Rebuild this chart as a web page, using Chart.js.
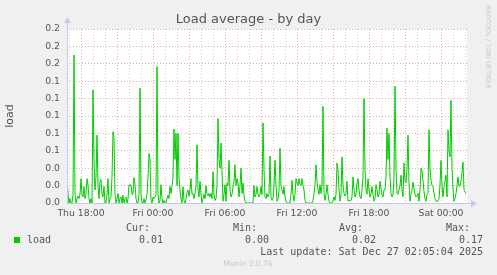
<!DOCTYPE html>
<html>
<head>
<meta charset="utf-8">
<title>Load average - by day</title>
<script src="https://cdn.jsdelivr.net/npm/chart.js@4.4.1/dist/chart.umd.min.js"></script>
<style>
  html, body { margin: 0; padding: 0; background: #f0f0f0; }
  canvas { display: block; }
</style>
</head>
<body>
<canvas id="loadChart" width="497" height="275"></canvas>
<script>
// minutes since Thu 00:00, one sample every 5 minutes
const firstSample = 1010; // Thu 16:50
const sampleStep = 5;

// load values (5 min resolution)
const loadValues = [
  0.035,0.01,0,0.005,0,0,0.01,0.17,0.01,0,
  0.005,0.008,0.005,0.01,0.028,0.01,0.007,0.019,0.005,0.01,
  0.028,0.02,0.005,0,0.005,0,0.13,0.05,0.015,0.03,
  0.078,0.02,0.005,0.025,0.027,0.01,0.007,0.019,0,0,
  0.01,0.028,0,0.005,0.007,0.03,0.082,0.075,0.01,0,
  0.005,0.011,0,0.005,0.007,0,0.009,0,0.005,0.007,
  0,0.005,0.021,0.02,0.021,0.01,0.01,0.029,0.022,0.005,
  0,0,0.01,0.132,0.01,0,0,0.005,0,0.004,
  0.01,0.03,0.057,0.05,0.003,0,0.007,0.005,0.007,0.01,
  0.157,0.01,0,0.003,0.021,0.005,0,0.003,0,0,
  0.005,0.009,0.005,0.019,0.011,0.019,0.03,0.085,0.05,0.08,
  0.02,0.08,0.03,0.015,0.005,0,0.019,0.003,0,0.005,
  0.012,0.015,0.008,0.015,0.028,0.01,0.011,0.005,0.011,0.02,
  0.067,0.015,0.007,0.025,0.01,0,0.005,0.01,0.005,0.02,
  0.01,0.008,0.011,0.007,0.011,0.005,0.036,0.01,0.003,0.005,
  0.02,0.097,0.05,0.04,0.069,0.035,0.002,0.01,0.021,0.002,
  0.023,0.02,0.049,0.015,0.007,0.01,0.019,0.025,0.044,0.02,
  0.028,0.023,0.007,0.02,0.04,0.011,0.023,0.008,0.002,0,
  0,0,0,0,0,0,0,0.02,0.007,0.01,
  0.019,0.01,0.007,0.01,0.019,0.01,0.092,0.038,0.007,0.005,
  0.011,0.007,0.01,0.054,0.007,0.003,0.005,0.021,0.049,0.02,
  0.002,0.005,0.015,0.063,0.02,0.015,0.01,0.019,0.007,0.002,
  0,0,0,0,0.01,0.026,0.01,0.002,0.01,0.028,
  0.023,0.02,0.028,0.021,0.02,0.028,0.02,0.015,0.003,0,
  0,0,0,0,0,0,0.003,0.011,0.02,0.044,
  0.025,0.015,0.01,0.021,0.011,0.02,0.111,0.011,0.003,0.01,
  0.021,0.01,0.002,0,0,0,0.003,0.007,0.003,0.01,
  0.046,0.038,0.015,0.002,0.01,0.053,0.02,0.011,0.008,0.01,
  0.025,0.002,0.003,0.003,0.003,0.007,0.03,0.015,0.007,0.01,
  0.023,0.028,0.015,0.007,0.005,0.015,0.03,0.12,0.04,0.015,
  0.01,0.028,0.015,0.007,0.01,0.019,0.01,0.002,0.005,0.021,
  0.015,0.007,0.01,0.025,0.017,0.01,0.007,0.015,0.015,0.03,
  0.086,0.05,0.08,0.03,0.011,0.007,0.01,0.03,0.134,0.04,
  0.011,0.01,0.015,0.02,0.032,0.015,0.007,0.046,0.025,0.023,
  0.04,0.078,0.023,0.002,0.01,0.015,0.024,0.017,0.01,0.007,
  0.008,0.011,0.002,0.015,0.04,0.037,0.026,0.013,0.005,0.002,
  0.01,0.011,0.084,0.04,0.026,0.02,0.019,0.011,0.005,0.002,
  0.002,0.002,0.005,0.02,0.049,0.02,0.007,0.019,0.025,0.032,
  0.007,0.084,0.06,0.053,0.118,0.04,0.015,0.002,0.005,0.011,
  0.02,0.03,0.019,0.02,0.025,0.035,0.047,0.015,0.013,0.011
];

const xTickMinutes = [1080, 1440, 1800, 2160, 2520, 2880];
const xTickLabels = ['Thu 18:00', 'Fri 00:00', 'Fri 06:00', 'Fri 12:00', 'Fri 18:00', 'Sat 00:00'];
const yTickLabels = ['0.0', '0.0', '0.0', '0.1', '0.1', '0.1', '0.1', '0.1', '0.2', '0.2', '0.2'];

const legendHeaders = ['Cur:', 'Min:', 'Avg:', 'Max:'];
const legendValues = ['0.01', '0.00', '0.02', '0.17'];
const lastUpdate = 'Last update: Sat Dec 27 02:05:04 2025';

const lineColor = '#00cc00';
const axisColor = '#c4c8ee';
const majorGrid = '#eeaaaa';
const minorGrid = '#d2d2d2';
const textColor = '#555555';

const points = loadValues.map((v, i) => ({ x: firstSample + i * sampleStep, y: v }));

// fundo, eixos com setas e textos do munin
const munin = {
  id: 'munin',
  beforeDraw(chart) {
    const { ctx, chartArea: a } = chart;
    ctx.save();
    ctx.fillStyle = '#f0f0f0';
    ctx.fillRect(0, 0, chart.width, chart.height);
    ctx.fillStyle = '#ffffff';
    ctx.fillRect(a.left, a.top, a.right - a.left, a.bottom - a.top);
    ctx.restore();
  },
  afterDraw(chart) {
    const { ctx, chartArea: a } = chart;
    ctx.save();
    // eixos
    ctx.strokeStyle = axisColor;
    ctx.fillStyle = axisColor;
    ctx.lineWidth = 1;
    ctx.beginPath();
    ctx.moveTo(a.left + 0.5, a.bottom + 0.5);
    ctx.lineTo(a.left + 0.5, a.top - 7);
    ctx.moveTo(a.left, a.bottom + 0.5);
    ctx.lineTo(a.right + 6, a.bottom + 0.5);
    ctx.stroke();
    ctx.beginPath();
    ctx.moveTo(a.left - 3, a.top - 6);
    ctx.lineTo(a.left + 4, a.top - 6);
    ctx.lineTo(a.left + 0.5, a.top - 12);
    ctx.closePath();
    ctx.fill();
    ctx.beginPath();
    ctx.moveTo(a.right + 4, a.bottom - 3);
    ctx.lineTo(a.right + 4, a.bottom + 4);
    ctx.lineTo(a.right + 10, a.bottom + 0.5);
    ctx.closePath();
    ctx.fill();

    // titulo
    ctx.fillStyle = textColor;
    ctx.font = '13px "DejaVu Sans"';
    ctx.textAlign = 'center';
    ctx.textBaseline = 'alphabetic';
    ctx.fillText('Load average - by day', 248.5, 22.5);

    // legenda
    ctx.font = '10px "DejaVu Sans Mono"';
    ctx.textBaseline = 'middle';
    ctx.textAlign = 'right';
    const headerRight = [150, 257, 363, 470];
    const valueRight = [163, 269, 376, 483];
    legendHeaders.forEach((h, i) => ctx.fillText(h, headerRight[i], 228));
    legendValues.forEach((v, i) => ctx.fillText(v, valueRight[i], 240));
    ctx.fillText(lastUpdate, 483, 252);
    ctx.textAlign = 'left';
    ctx.fillText('load', 27, 240);
    ctx.fillStyle = lineColor;
    ctx.fillRect(14, 237, 6, 6);

    // marcas cinzas
    ctx.fillStyle = '#c8c8c8';
    ctx.font = '7.5px "DejaVu Sans"';
    ctx.textAlign = 'center';
    ctx.fillText('Munin 2.0.76', 248, 264);
    ctx.translate(488, 5);
    ctx.rotate(Math.PI / 2);
    ctx.textAlign = 'left';
    ctx.font = '6.5px "DejaVu Sans"';
    ctx.fillText('RRDTOOL / TOBI OETIKER', 0, 0);
    ctx.restore();
  }
};

new Chart(document.getElementById('loadChart'), {
  type: 'line',
  data: {
    datasets: [{
      label: 'load',
      data: points,
      borderColor: lineColor,
      borderWidth: 1,
      pointRadius: 0,
      tension: 0,
      fill: false
    }]
  },
  options: {
    responsive: false,
    animation: false,
    devicePixelRatio: 1,
    layout: { padding: { left: 0, top: 29, right: 30, bottom: 52 } },
    plugins: { legend: { display: false }, tooltip: { enabled: false } },
    scales: {
      x: {
        type: 'linear',
        min: 1010,
        max: 3010,
        afterFit: s => { s.height = 20; },
        afterBuildTicks: s => {
          const t = [];
          for (let m = 1020; m <= 3000; m += 60) t.push({ value: m });
          s.ticks = t;
        },
        ticks: {
          autoSkip: false,
          maxRotation: 0,
          padding: 5,
          color: textColor,
          font: { family: 'DejaVu Sans', size: 9.3 },
          callback: v => {
            const k = xTickMinutes.indexOf(v);
            return k >= 0 ? xTickLabels[k] : '';
          }
        },
        grid: {
          drawTicks: false,
          color: c => (c.tick && c.tick.value % 180 === 0) ? majorGrid : minorGrid
        },
        border: { display: false, dash: [1, 2] }
      },
      y: {
        min: 0,
        max: 0.2,
        afterFit: s => { s.width = 67; },
        ticks: {
          stepSize: 0.01,
          padding: 7,
          color: textColor,
          font: { family: 'DejaVu Sans', size: 9.3 },
          callback: (v, i) => (i % 2 === 0 ? yTickLabels[i / 2] : '')
        },
        grid: {
          drawTicks: false,
          color: c => (c.index % 2 === 0) ? majorGrid : minorGrid
        },
        border: { display: false, dash: [1, 2] },
        title: {
          display: true,
          text: 'load',
          color: textColor,
          font: { family: 'DejaVu Sans', size: 11 },
          padding: { top: 4, bottom: 0 }
        }
      }
    }
  },
  plugins: [munin]
});
</script>
</body>
</html>
